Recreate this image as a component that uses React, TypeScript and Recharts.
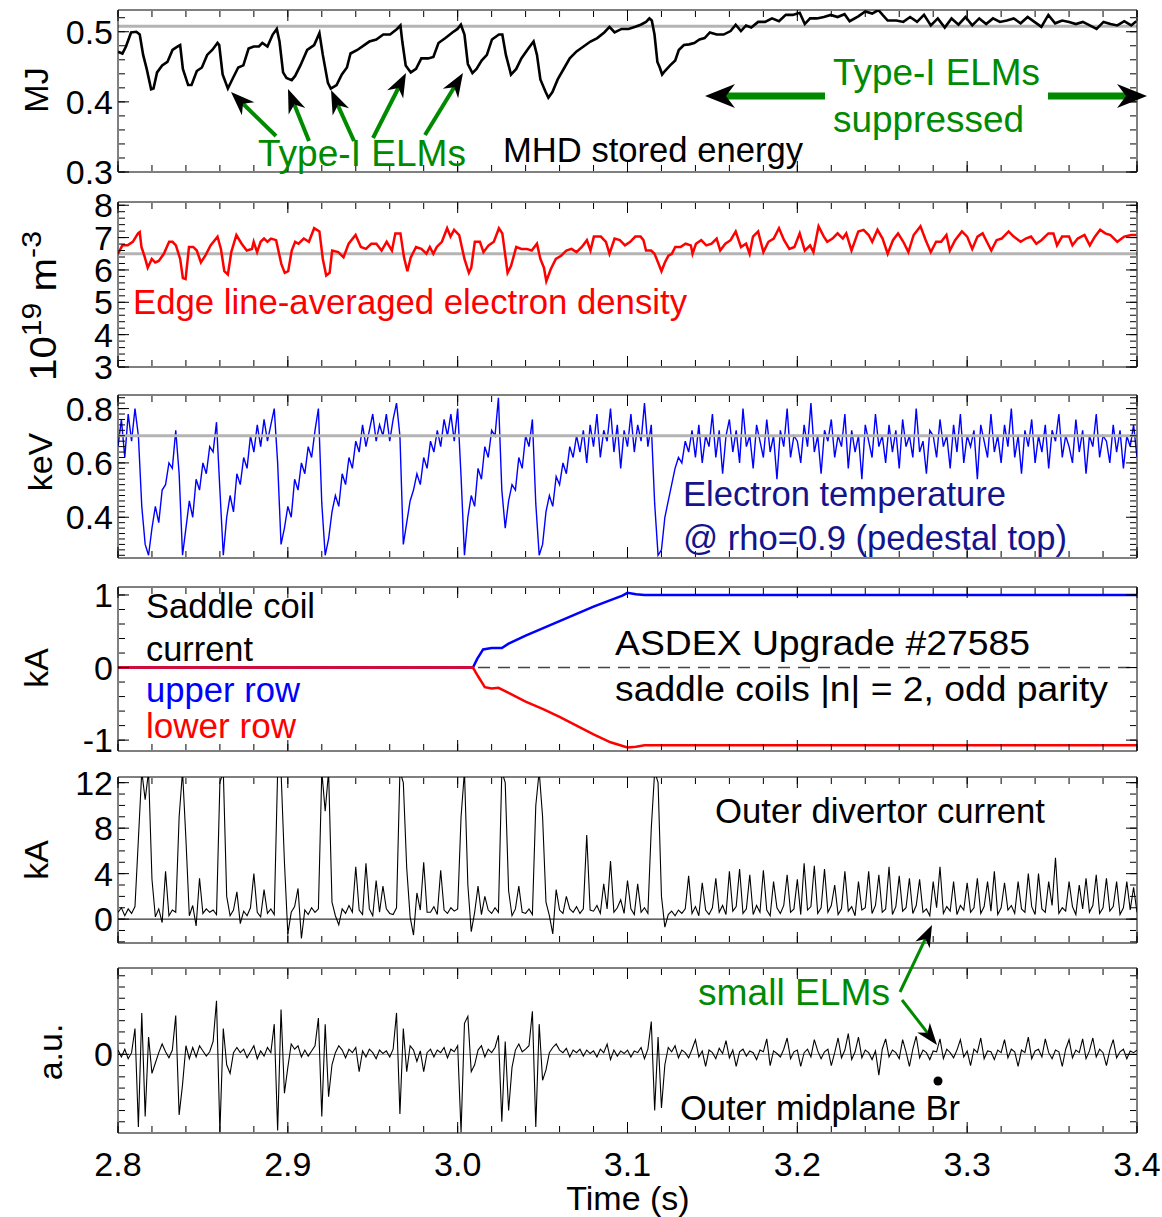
import { LineChart, Line, XAxis, YAxis, ReferenceLine } from "recharts";

const FONT = "'Liberation Sans', Arial, Helvetica, sans-serif";
const GREEN = "#008a00";
const NAVY = "#14148c";

// plot box, page pixels
const W = 1162;
const PLOT_LEFT = 118;
const PLOT_RIGHT = 1137;
const LABEL_W = 80;
const PAD = 24;

// evenly sampled traces: one value every DT seconds from T0
const T0 = 2.8;
const DT = 0.002;

const timeTicks = [2.8, 2.9, 3.0, 3.1, 3.2, 3.3, 3.4];

// MHD stored energy (MJ), [t, W]
const storedEnergy: [number, number][] = [
  [2.8, 0.4715], [2.8026, 0.469], [2.8047, 0.479], [2.8077, 0.499], [2.8108, 0.5], [2.8128, 0.496],
  [2.8148, 0.467], [2.8169, 0.447], [2.8195, 0.418], [2.8209, 0.419], [2.823, 0.442], [2.826, 0.452],
  [2.8291, 0.457], [2.8321, 0.474], [2.8352, 0.479], [2.8366, 0.481], [2.8382, 0.447], [2.8413, 0.424],
  [2.8433, 0.424], [2.8464, 0.444], [2.8494, 0.449], [2.8525, 0.467], [2.8555, 0.474], [2.8586, 0.484],
  [2.8596, 0.481], [2.8616, 0.439], [2.8647, 0.419], [2.8677, 0.434], [2.8708, 0.449], [2.8738, 0.452],
  [2.8769, 0.476], [2.8799, 0.479], [2.883, 0.479], [2.885, 0.484], [2.888, 0.479], [2.8911, 0.496],
  [2.8935, 0.504], [2.8951, 0.486], [2.8972, 0.442], [2.8992, 0.434], [2.9023, 0.431], [2.9043, 0.437],
  [2.9074, 0.452], [2.9114, 0.474], [2.9155, 0.481], [2.9186, 0.498], [2.9206, 0.467], [2.9236, 0.427],
  [2.9253, 0.419], [2.9287, 0.424], [2.9318, 0.439], [2.9348, 0.449], [2.9369, 0.469], [2.9409, 0.474],
  [2.945, 0.481], [2.948, 0.486], [2.9521, 0.489], [2.9562, 0.496], [2.9602, 0.496], [2.9643, 0.504],
  [2.9663, 0.509], [2.9674, 0.486], [2.9694, 0.452], [2.9724, 0.442], [2.9755, 0.447], [2.9786, 0.462],
  [2.9826, 0.462], [2.9857, 0.464], [2.9887, 0.484], [2.9928, 0.491], [2.9969, 0.499], [2.9999, 0.504],
  [3.0019, 0.51], [3.004, 0.496], [3.006, 0.454], [3.0087, 0.441], [3.0111, 0.447], [3.0141, 0.459],
  [3.0172, 0.467], [3.0202, 0.489], [3.0243, 0.496], [3.0263, 0.496], [3.0284, 0.467], [3.0314, 0.439],
  [3.0345, 0.447], [3.0375, 0.462], [3.0416, 0.476], [3.0447, 0.486], [3.0467, 0.467], [3.0487, 0.432],
  [3.0518, 0.414], [3.0534, 0.406], [3.0558, 0.414], [3.0589, 0.432], [3.0629, 0.449], [3.066, 0.462],
  [3.07, 0.472], [3.0741, 0.479], [3.0782, 0.486], [3.0822, 0.491], [3.0863, 0.499], [3.0894, 0.507],
  [3.0924, 0.499], [3.0965, 0.504], [3.1006, 0.504], [3.1046, 0.507], [3.1078, 0.51], [3.1109, 0.514],
  [3.1129, 0.519], [3.1143, 0.516], [3.1159, 0.496], [3.1176, 0.457], [3.119, 0.449], [3.1204, 0.439],
  [3.122, 0.444], [3.1251, 0.452], [3.1281, 0.459], [3.1302, 0.474], [3.1332, 0.481], [3.1363, 0.482],
  [3.1393, 0.484], [3.1424, 0.489], [3.1454, 0.491], [3.1485, 0.499], [3.1525, 0.496], [3.1566, 0.496],
  [3.1607, 0.501], [3.1637, 0.51], [3.1668, 0.501], [3.1698, 0.509], [3.1729, 0.506], [3.1769, 0.514],
  [3.181, 0.514], [3.1851, 0.519], [3.1892, 0.515], [3.1932, 0.524], [3.1973, 0.524], [3.2014, 0.527],
  [3.2044, 0.511], [3.2075, 0.519], [3.2115, 0.519], [3.2156, 0.521], [3.2197, 0.524], [3.2237, 0.521],
  [3.2278, 0.525], [3.2308, 0.515], [3.2359, 0.522], [3.24, 0.529], [3.2441, 0.526], [3.2477, 0.531],
  [3.2502, 0.524], [3.2532, 0.516], [3.2583, 0.516], [3.2624, 0.514], [3.2664, 0.521], [3.2705, 0.514],
  [3.2746, 0.524], [3.2786, 0.509], [3.2827, 0.519], [3.2868, 0.506], [3.2908, 0.519], [3.2949, 0.51],
  [3.299, 0.521], [3.303, 0.509], [3.3071, 0.519], [3.3112, 0.511], [3.3152, 0.519], [3.3193, 0.514],
  [3.3234, 0.516], [3.3274, 0.519], [3.3315, 0.512], [3.3356, 0.521], [3.3396, 0.514], [3.3437, 0.507],
  [3.3478, 0.524], [3.3518, 0.512], [3.3559, 0.516], [3.36, 0.514], [3.364, 0.511], [3.3681, 0.514],
  [3.3722, 0.509], [3.3762, 0.504], [3.3803, 0.514], [3.3844, 0.511], [3.3884, 0.509], [3.3925, 0.515],
  [3.3966, 0.509], [3.3996, 0.515],
];

// edge line-averaged electron density (1e19 m^-3), [t, n]
const edgeDensity: [number, number][] = [
  [2.8, 6.5], [2.8026, 6.76], [2.8057, 6.76], [2.8087, 6.87], [2.8118, 7.13], [2.8128, 7.17], [2.8138, 6.71],
  [2.8158, 6.39], [2.8175, 6.07], [2.8199, 6.34], [2.8219, 6.23], [2.824, 6.28], [2.827, 6.5], [2.8301, 6.87],
  [2.8321, 6.87], [2.8341, 6.76], [2.8366, 6.34], [2.8382, 5.75], [2.8398, 5.72], [2.8418, 6.71], [2.8443, 6.71],
  [2.8464, 6.6], [2.8488, 6.23], [2.8514, 6.44], [2.8545, 6.76], [2.8586, 7.03], [2.8606, 6.65], [2.8626, 5.96],
  [2.8647, 5.86], [2.8667, 6.55], [2.8697, 7.08], [2.8728, 6.81], [2.8758, 6.6], [2.8789, 6.65], [2.8799, 6.87],
  [2.8819, 6.55], [2.884, 6.87], [2.886, 6.97], [2.888, 6.87], [2.8901, 6.97], [2.8931, 6.92], [2.8962, 6.18],
  [2.8982, 5.91], [2.9002, 5.96], [2.9023, 6.6], [2.9043, 6.87], [2.9063, 6.81], [2.9094, 6.97], [2.9124, 6.87],
  [2.9155, 7.29], [2.9186, 7.19], [2.9206, 6.34], [2.9226, 5.83], [2.9246, 5.91], [2.9261, 6.6], [2.9297, 6.55],
  [2.9328, 6.39], [2.9358, 6.81], [2.9399, 7.08], [2.943, 6.71], [2.946, 6.65], [2.9491, 6.81], [2.9521, 6.81],
  [2.9552, 6.6], [2.9582, 6.87], [2.9613, 6.6], [2.9633, 7.13], [2.9663, 7.13], [2.9684, 6.39], [2.9704, 5.96],
  [2.9724, 6.39], [2.9755, 6.71], [2.9786, 6.65], [2.9816, 6.5], [2.9836, 6.71], [2.9857, 6.5], [2.9877, 6.71],
  [2.9907, 6.87], [2.9938, 7.29], [2.9958, 7.03], [2.9979, 7.24], [3.0009, 7.08], [3.004, 6.34], [3.0066, 5.91],
  [3.008, 6.07], [3.0101, 6.87], [3.0131, 6.87], [3.0152, 6.55], [3.0182, 6.76], [3.0213, 6.87], [3.0243, 7.29],
  [3.0263, 7.13], [3.0294, 5.91], [3.0314, 6.12], [3.0345, 6.71], [3.0375, 6.65], [3.0406, 6.65], [3.0436, 6.6],
  [3.0467, 6.81], [3.0487, 6.34], [3.0508, 6.07], [3.0522, 5.65], [3.0548, 6.02], [3.0578, 6.34], [3.0609, 6.44],
  [3.064, 6.6], [3.067, 6.65], [3.07, 6.55], [3.0731, 6.71], [3.0761, 6.92], [3.0782, 6.6], [3.0802, 7.03],
  [3.0843, 7.03], [3.0873, 6.87], [3.0894, 6.5], [3.0924, 6.97], [3.0955, 6.92], [3.0985, 6.76], [3.1016, 6.87],
  [3.1046, 7.03], [3.1077, 7.03], [3.1094, 6.92], [3.1109, 6.6], [3.1139, 6.6], [3.1159, 6.5], [3.118, 6.23],
  [3.12, 5.96], [3.122, 6.23], [3.1241, 6.44], [3.1261, 6.5], [3.1281, 6.71], [3.1312, 6.71], [3.1342, 6.81],
  [3.1373, 6.76], [3.1383, 6.5], [3.1403, 6.81], [3.1434, 6.92], [3.1464, 6.76], [3.1495, 6.81], [3.1525, 6.97],
  [3.1546, 6.6], [3.1576, 6.81], [3.1607, 6.92], [3.1637, 7.19], [3.1668, 6.71], [3.1698, 6.81], [3.1719, 6.5],
  [3.1739, 7.03], [3.1769, 7.19], [3.18, 6.55], [3.183, 6.87], [3.1861, 6.97], [3.1892, 7.29], [3.1922, 6.92],
  [3.1953, 6.65], [3.1983, 6.71], [3.2014, 7.13], [3.2044, 6.6], [3.2075, 6.76], [3.2095, 6.55], [3.2125, 7.35],
  [3.2156, 7.03], [3.2176, 6.87], [3.2207, 6.97], [3.2237, 7.13], [3.2268, 6.97], [3.2288, 7.13], [3.2319, 6.6],
  [3.2359, 7.19], [3.239, 7.24], [3.242, 7.08], [3.2441, 6.87], [3.2472, 7.24], [3.2502, 6.97], [3.2532, 6.5],
  [3.2563, 6.92], [3.2593, 7.13], [3.2624, 6.87], [3.2654, 6.55], [3.2685, 7.08], [3.2725, 7.35], [3.2756, 6.92],
  [3.2786, 6.55], [3.2817, 6.87], [3.2847, 6.87], [3.2878, 7.08], [3.2898, 6.6], [3.2929, 6.92], [3.2969, 7.19],
  [3.3, 7.03], [3.303, 6.65], [3.3061, 7.03], [3.3091, 7.13], [3.3122, 6.81], [3.3142, 6.6], [3.3173, 6.92],
  [3.3203, 6.97], [3.3244, 7.19], [3.3274, 7.03], [3.3315, 6.87], [3.3345, 6.97], [3.3376, 7.03], [3.3407, 6.81],
  [3.3437, 6.92], [3.3478, 7.13], [3.3508, 7.13], [3.3529, 6.76], [3.3559, 7.03], [3.36, 7.03], [3.362, 6.76],
  [3.3651, 6.97], [3.3691, 7.08], [3.3722, 6.76], [3.3752, 7.03], [3.3783, 7.24], [3.3813, 7.13], [3.3844, 7.08],
  [3.3884, 6.87], [3.3925, 7.03], [3.3966, 7.08], [3.3996, 7.08],
];

// saddle coil currents (kA), [t, I]
const upperRow: [number, number][] = [
  [2.8, 0], [3.009, 0], [3.0115, 0.12], [3.015, 0.25], [3.02, 0.27], [3.026, 0.27], [3.03, 0.33],
  [3.04, 0.44], [3.05, 0.54], [3.06, 0.64], [3.07, 0.74], [3.08, 0.84], [3.09, 0.93], [3.097, 0.99],
  [3.1, 1.03], [3.105, 1.01], [3.11, 1.0], [3.2, 1.0], [3.3, 1.0], [3.4, 1.0],
];
const lowerRow: [number, number][] = [
  [2.8, 0], [3.009, 0], [3.012, -0.12], [3.016, -0.27], [3.02, -0.29], [3.024, -0.28], [3.03, -0.35],
  [3.04, -0.47], [3.05, -0.57], [3.06, -0.68], [3.07, -0.8], [3.08, -0.92], [3.09, -1.03], [3.1, -1.1],
  [3.105, -1.09], [3.11, -1.07], [3.2, -1.07], [3.3, -1.07], [3.4, -1.07],
];

// electron temperature at rho=0.9 (keV)
const teRho09 = [
  0.66, 0.76, 0.62, 0.78, 0.68, 0.8, 0.7,
  0.44, 0.3, 0.26, 0.36, 0.44, 0.38, 0.5, 0.52, 0.6, 0.58, 0.72, 0.56, 0.26,
  0.36, 0.46, 0.4, 0.54, 0.5, 0.6, 0.56, 0.66, 0.64, 0.75, 0.5, 0.26,
  0.4, 0.48, 0.42, 0.56, 0.52, 0.62, 0.58, 0.7, 0.64, 0.74, 0.66, 0.76, 0.68, 0.74, 0.8, 0.6, 0.3,
  0.36, 0.44, 0.4, 0.54, 0.5, 0.6, 0.56, 0.66, 0.62, 0.72, 0.8, 0.45, 0.26,
  0.32, 0.42, 0.48, 0.44, 0.56, 0.52, 0.62, 0.58, 0.68, 0.64, 0.74, 0.66, 0.72, 0.78, 0.68, 0.74, 0.7, 0.78,
  0.68, 0.76, 0.82, 0.7, 0.3,
  0.38, 0.46, 0.5, 0.56, 0.52, 0.62, 0.58, 0.68, 0.64, 0.72, 0.66, 0.76, 0.7, 0.78, 0.68, 0.8, 0.55, 0.26,
  0.4, 0.48, 0.44, 0.58, 0.54, 0.66, 0.62, 0.72, 0.7, 0.84, 0.5, 0.36,
  0.46, 0.52, 0.5, 0.62, 0.58, 0.7, 0.66, 0.76, 0.45, 0.26,
  0.3, 0.42, 0.48, 0.44, 0.55, 0.52, 0.6, 0.56, 0.66, 0.62, 0.7, 0.64, 0.72, 0.6, 0.74, 0.66, 0.78, 0.62,
  0.72, 0.68, 0.8, 0.64, 0.74, 0.58, 0.72, 0.66, 0.78, 0.64, 0.74, 0.68, 0.82, 0.66, 0.74,
  0.45, 0.26, 0.28, 0.4, 0.46, 0.52, 0.58, 0.62, 0.6, 0.68, 0.64, 0.72, 0.62,
  0.74, 0.6, 0.7, 0.66, 0.78, 0.62, 0.72, 0.56, 0.7, 0.76,
  0.64, 0.72, 0.6, 0.8, 0.66, 0.7, 0.58, 0.74, 0.68, 0.62,
  0.76, 0.64, 0.7, 0.54, 0.72, 0.66, 0.8, 0.62, 0.7, 0.68,
  0.6, 0.74, 0.66, 0.82, 0.64, 0.7, 0.56, 0.72, 0.68, 0.76,
  0.62, 0.7, 0.66, 0.78, 0.58, 0.72, 0.64, 0.7, 0.54, 0.74,
  0.68, 0.62, 0.78, 0.66, 0.7, 0.6, 0.74, 0.64, 0.72, 0.58,
  0.76, 0.66, 0.7, 0.62, 0.8, 0.64, 0.68, 0.56, 0.72, 0.7,
  0.62, 0.76, 0.66, 0.7, 0.58, 0.74, 0.64, 0.78, 0.6, 0.7,
  0.66, 0.72, 0.54, 0.74, 0.68, 0.62, 0.78, 0.64, 0.7, 0.6,
  0.74, 0.66, 0.8, 0.62, 0.7, 0.56, 0.72, 0.66, 0.76, 0.6,
  0.7, 0.64, 0.74, 0.58, 0.72, 0.68, 0.78, 0.62, 0.7, 0.66,
  0.6, 0.76, 0.64, 0.72, 0.56, 0.7, 0.66, 0.78, 0.62, 0.7,
  0.68, 0.6, 0.74, 0.64, 0.72, 0.58, 0.7, 0.66, 0.74, 0.62,
];

// outer divertor current (kA)
const divertorCurrent = [
  0.6, 1.0, 0.3, 0.9, 0.5, 1.1,
  7, 13, 10.5, 13, 3.5, 0.2, 0.9,
  -0.3, 4.2, 0.3, 0.8,
  0.6, 9, 13, 7, 0.3,
  1.2, -0.6, 3.6, 0.5, 0.9, 0.6, 0.8, 0.4,
  12, 13, 2.0, 0.3, 0.8, 2.4, -0.4, 0.7, 0.3, 1.0, 4.0, 0.6, 0.2, 2.6, 0.5, 0.9, 0.4,
  13, 13, 5, -1.3, 0.6, 1.1, 2.7, -1.7, 0.8, 0.4, 1.0, 0.6, 0.9,
  13, 9.5, 13, 1.5, 0.3, -0.5, 0.9, 0.5, 1.2, 0.6, 4.6, 0.8, 0.4, 4.9, 0.9, 0.3, 3.4, 0.6, 2.9, 0.9, 0.5, 0.4, 1.0,
  13, 12, 4.5, 0.2, -1.4, 2.3, 0.8, 5.0, 0.6, 0.6, 1.1, 0.4, 4.3, 0.8, 0.5, 1.0, 0.7, 0.9,
  9, 13, 3, -1.1, 0.6, 2.9, 0.4, 2.0, 0.8, 0.5, 1.0, 0.6,
  13, 12, 2.5, 0.3, 0.9, 2.9, 0.6, 0.5, 0.9, 0.4,
  10, 13, 9, 1.5, 0.3, -1.3, 2.6, 0.8, 0.5, 2.0, 0.9, 0.6, 1.1, 0.5, 0.9, 7.4, 0.8, 0.7, 1.2, 0.5,
  3.1, 0.9, 5.1, 0.6, 1.0, 1.7, 0.5, 3.4, 0.9, 0.4, 3.1, 0.6, 1.0, 0.5,
  8, 13, 12, 2.0, -0.7, 0.4, 0.7, 0.3, 0.8, 0.5, 0.9,
  3.8, 0.5, 1.1, 0.3, 3.2, 0.8, 0.4, 1.0, 3.6, 0.6, 1.2, 0.4, 4.2, 0.7, 1.1, 4.4, 0.5, 0.9, 3.9, 0.4,
  1.2, 0.6, 4.3, 0.8, 0.3, 3.3, 1.0, 0.5, 1.2, 3.9, 0.6, 0.9, 3.5, 0.4, 4.9, 0.8, 1.1, 4.7, 0.5, 1.0,
  4.4, 0.6, 1.2, 3.0, 0.4, 0.9, 4.2, 0.7, 1.1, 0.3, 3.3, 0.8, 1.0, 4.2, 0.5, 1.2, 3.9, 0.6, 0.9, 4.6,
  0.4, 1.1, 3.8, 0.7, 1.0, 3.6, 0.5, 1.2, 3.5, 0.6, 0.9, 0.3, 3.3, 1.0, 4.6, 0.5, 1.1, 0.7, 3.3, 0.4,
  1.2, 0.8, 3.2, 0.6, 1.0, 3.6, 0.5, 1.1, 3.3, 0.7, 4.2, 0.4, 1.0, 3.2, 0.8, 1.2, 0.5, 3.3, 0.9, 0.6,
  4.0, 1.1, 0.4, 4.0, 0.9, 0.6, 3.3, 1.2, 5.4, 0.5, 1.0, 0.7, 3.3, 1.1, 0.4, 3.0, 0.9, 3.6, 0.6, 1.2,
  3.9, 0.5, 1.0, 3.6, 0.7, 1.1, 3.3, 0.4, 1.0, 3.3, 0.8, 2.8, 0.6,
];

// outer midplane dBr/dt (a.u.)
const brDot = [
  0.05, -0.03, 0.06, -0.05, 0.02,
  0.3, -0.84, 0.48, -0.72, 0.2, -0.22, -0.1, 0.02, 0.12, 0.03, -0.04, 0.05,
  0.45, -0.7, -0.35, 0.1, -0.05, 0.08, -0.03, 0.1, 0.04, -0.02, 0.03, 0.15,
  0.62, -0.9, 0.3, -0.12, -0.22, 0.02, 0.08, 0.02, 0.06, -0.04, 0.03, 0.1, -0.05, 0.04, -0.02, 0.08, 0.02,
  0.35, -0.88, 0.52, -0.45, -0.15, 0.12, 0.06, 0.1, -0.03, 0.05, -0.02, 0.04, 0.1,
  0.42, -0.72, 0.35, -0.49, -0.12, 0.02, 0.1, 0.05, -0.04, 0.06, 0.02, 0.08, -0.2, 0.04, -0.03, 0.06,
  0.02, -0.05, 0.05, 0.01, 0.04, -0.03, 0.06,
  0.48, -0.69, 0.3, -0.2, 0.1, 0.05, -0.08, 0.04, -0.2, 0.02, 0.06, -0.03, 0.05, 0.02, 0.08, -0.04, 0.06, 0.03, 0.1,
  -0.9, 0.36, 0.44, -0.2, -0.12, 0.05, 0.1, -0.03, 0.06, 0.02, 0.08,
  0.22, -0.78, 0.15, -0.65, -0.15, 0.05, 0.12, 0.03, 0.06, 0.1,
  0.5, -0.84, 0.35, -0.3, -0.18, 0.02, 0.08, 0.12, 0.05, 0.02, 0.07, -0.03, 0.05, 0.02, 0.06, -0.02, 0.05,
  0.01, 0.04, -0.03, 0.06, 0.02, 0.12, -0.06, 0.05, -0.02, 0.04, 0.01, 0.05, -0.03, 0.04, 0.02, 0.08, -0.05, 0.06,
  0.38, -0.65, 0.2, -0.62, -0.12, 0.08, 0.03, 0.1, -0.04, 0.05,
  0.02, -0.04, 0.06, 0.17, -0.03, 0.04, -0.14, 0.05, 0.02, -0.05, 0.07, 0.01, 0.16, -0.04,
  0.05, -0.14, 0.03, 0.06, -0.02, 0.04, 0.02, -0.06, 0.05, 0.03, 0.18, -0.13, 0.04, 0.01, -0.03, 0.06, 0.19, -0.05, 0.03, 0.05,
  -0.14, 0.02, 0.06, -0.03, 0.17, 0.04, -0.05, 0.03, 0.06, -0.13, 0.02, 0.19, -0.04, 0.05, 0.24, -0.06, 0.03, 0.2, -0.04, 0.05,
  0.02, -0.06, 0.04, -0.24, 0.06, 0.18, -0.03, 0.05, 0.02, -0.05, 0.17, 0.03, -0.14, 0.06, 0.21, -0.04, 0.05, 0.02, -0.06, 0.04,
  0.03, 0.18, -0.05, 0.06, 0.02, -0.04, 0.05, 0.17, -0.03, 0.04, -0.13, 0.06, 0.02, 0.19, -0.05, 0.04, 0.03, -0.06, 0.05, 0.02,
  0.17, -0.04, 0.06, 0.03, -0.14, 0.05, 0.02, 0.2, -0.05, 0.04, 0.06, -0.03, 0.18, 0.02, -0.05, 0.05, 0.03, -0.14, 0.06, 0.17,
  -0.04, 0.05, 0.02, 0.18, -0.05, 0.04, 0.19, -0.03, 0.06, 0.02, -0.13, 0.05, 0.17, -0.04, 0.03, 0.06, -0.05, 0.04, 0.02, 0.05,
];

const pairs = (arr: [number, number][]) => arr.map(([t, v]) => ({ t, v }));
const sampled = (arr: number[]) => arr.map((v, i) => ({ t: +(T0 + i * DT).toFixed(4), v }));

const steps = (a: number, b: number, s: number) => {
  const out: number[] = [];
  for (let k = 0; a + k * s <= b + 1e-9; k++) out.push(+(a + k * s).toFixed(4));
  return out;
};

const X_MINOR = steps(2.8, 3.4, 0.02);

// tick marks only, no label text (tick={false} would drop the tick lines too)
const noLabel = () => <g />;

type PanelProps = {
  top: number;
  height: number;
  domain: [number, number];
  major: number[];
  minor: number[];
  fmt: (v: number) => string;
  timeLabels?: boolean;
  children?: any;
};

const tickFont = { fontSize: 34, fill: "#000", fontFamily: FONT };

function Panel({ top, height, domain, major, minor, fmt, timeLabels, children }: PanelProps) {
  const extra = timeLabels ? 84 : 0;
  const xc = { type: "number" as const, dataKey: "t", domain: [2.8, 3.4], allowDataOverflow: true, interval: 0 as const, stroke: "#000" };
  const yc = { type: "number" as const, domain, allowDataOverflow: true, interval: 0 as const, stroke: "#000" };
  return (
    <div style={{ position: "absolute", left: 0, top: top - PAD }}>
      <LineChart
        width={W}
        height={height + extra + 2 * PAD}
        margin={{ top: PAD, right: W - PLOT_RIGHT, bottom: PAD, left: PLOT_LEFT - LABEL_W }}
      >
        <XAxis xAxisId="x" {...xc} orientation="bottom" mirror height={1} ticks={timeTicks} tickSize={11} tick={noLabel} />
        <XAxis xAxisId="xm" {...xc} orientation="bottom" mirror height={1} ticks={X_MINOR} tickSize={6} tick={noLabel} axisLine={false} />
        <XAxis xAxisId="xt" {...xc} orientation="top" mirror height={1} ticks={timeTicks} tickSize={11} tick={noLabel} />
        <XAxis xAxisId="xtm" {...xc} orientation="top" mirror height={1} ticks={X_MINOR} tickSize={6} tick={noLabel} axisLine={false} />
        {timeLabels && (
          <XAxis
            xAxisId="xl"
            {...xc}
            orientation="bottom"
            height={extra}
            ticks={timeTicks}
            tickLine={false}
            axisLine={false}
            tickSize={0}
            tickMargin={19}
            tickFormatter={(v: number) => v.toFixed(1)}
            tick={tickFont}
          />
        )}
        <YAxis
          yAxisId="y"
          {...yc}
          width={LABEL_W}
          ticks={major}
          tickLine={false}
          axisLine={false}
          tickSize={0}
          tickMargin={5}
          tickFormatter={fmt}
          tick={tickFont}
        />
        <YAxis yAxisId="yl" {...yc} mirror width={1} ticks={major} tickSize={11} tick={noLabel} />
        <YAxis yAxisId="ylm" {...yc} mirror width={1} ticks={minor} tickSize={6} tick={noLabel} axisLine={false} />
        <YAxis yAxisId="yr" {...yc} orientation="right" mirror width={1} ticks={major} tickSize={11} tick={noLabel} />
        <YAxis yAxisId="yrm" {...yc} orientation="right" mirror width={1} ticks={minor} tickSize={6} tick={noLabel} axisLine={false} />
        {children}
      </LineChart>
    </div>
  );
}

const trace = (data: any[], color: string, width: number, key: string) => (
  <Line
    key={key}
    xAxisId="x"
    yAxisId="y"
    data={data}
    dataKey="v"
    type="linear"
    stroke={color}
    strokeWidth={width}
    dot={false}
    activeDot={false}
    isAnimationActive={false}
  />
);

const refLine = (y: number, color: string, width: number, dash?: string) => (
  <ReferenceLine xAxisId="x" yAxisId="y" y={y} stroke={color} strokeWidth={width} strokeDasharray={dash} />
);

function Arrow({ from, to, width = 4, len = 24, half = 9 }: { from: number[]; to: number[]; width?: number; len?: number; half?: number }) {
  const [x1, y1] = from;
  const [x2, y2] = to;
  const d = Math.hypot(x2 - x1, y2 - y1);
  const ux = (x2 - x1) / d;
  const uy = (y2 - y1) / d;
  const bx = x2 - ux * len;
  const by = y2 - uy * len;
  const nx = x2 - ux * len * 0.7;
  const ny = y2 - uy * len * 0.7;
  const pts = [
    [x2, y2],
    [bx - uy * half, by + ux * half],
    [nx, ny],
    [bx + uy * half, by - ux * half],
  ]
    .map((p) => p.join(","))
    .join(" ");
  return (
    <g>
      <line x1={x1} y1={y1} x2={nx} y2={ny} stroke={GREEN} strokeWidth={width} />
      <polygon points={pts} fill="#000" />
    </g>
  );
}

// annotation text, stretched to the width it has in the figure
const T = ({ x, y, w, c = "#000", a = "start", s = 35, children }: any) => (
  <text
    x={x}
    y={y}
    fill={c}
    textAnchor={a}
    fontSize={s}
    fontFamily={FONT}
    textLength={w}
    lengthAdjust={w ? "spacingAndGlyphs" : undefined}
  >
    {children}
  </text>
);

const VT = ({ x, y, children }: any) => (
  <text transform={`translate(${x},${y}) rotate(-90)`} textAnchor="middle" fontSize={34} fontFamily={FONT} fill="#000">
    {children}
  </text>
);

export default function App() {
  return (
    <div style={{ position: "absolute", left: 0, top: 0, width: W, height: 1217, background: "#fff", overflow: "hidden", fontFamily: FONT }}>
      <Panel top={10} height={162} domain={[0.3, 0.531]} major={[0.3, 0.4, 0.5]} minor={steps(0.3, 0.52, 0.02)} fmt={(v) => v.toFixed(1)}>
        {refLine(0.508, "#b4b4b4", 3)}
        {trace(pairs(storedEnergy), "#000", 2.6, "w")}
      </Panel>
      <Panel top={202} height={165} domain={[3, 8.1]} major={[3, 4, 5, 6, 7, 8]} minor={steps(3, 8, 0.2)} fmt={(v) => String(v)}>
        {refLine(6.5, "#b4b4b4", 3)}
        {trace(pairs(edgeDensity), "#ff0000", 2.5, "n")}
      </Panel>
      <Panel top={395} height={163} domain={[0.25, 0.85]} major={[0.4, 0.6, 0.8]} minor={steps(0.26, 0.84, 0.02)} fmt={(v) => v.toFixed(1)}>
        {trace(sampled(teRho09), "#0000ff", 1.4, "te")}
        {refLine(0.7, "#b4b4b4", 3)}
      </Panel>
      <Panel top={587} height={164} domain={[-1.15, 1.11]} major={[-1, 0, 1]} minor={steps(-1, 1, 0.2)} fmt={(v) => String(v)}>
        {refLine(0, "#444", 1.5, "12 8")}
        {trace(pairs(upperRow), "#0000ff", 2.5, "up")}
        {trace(pairs(lowerRow), "#ff0000", 2.5, "lo")}
      </Panel>
      <Panel top={777} height={166} domain={[-2.1, 12.5]} major={[0, 4, 8, 12]} minor={steps(-2, 12, 1)} fmt={(v) => String(v)}>
        {refLine(0, "#000", 1)}
        {trace(sampled(divertorCurrent), "#000", 1.1, "div")}
      </Panel>
      <Panel
        top={968}
        height={165}
        domain={[-0.91, 1.0]}
        major={[0]}
        minor={steps(-0.78, 0.91, 0.13)}
        fmt={(v) => String(v)}
        timeLabels
      >
        {refLine(0, "#888", 1)}
        {trace(sampled(brDot), "#000", 1.1, "br")}
      </Panel>

      <svg width={W} height={1217} style={{ position: "absolute", left: 0, top: 0, pointerEvents: "none" }}>
        {/* axis titles */}
        <VT x={48} y={90}>MJ</VT>
        <text transform="translate(56,306) rotate(-90)" textAnchor="middle" fontSize={36} fontFamily={FONT} textLength={150} lengthAdjust="spacingAndGlyphs">
          10<tspan fontSize={27} dy={-15}>19</tspan>
          <tspan dy={15}> m</tspan>
          <tspan fontSize={27} dy={-15}>-3</tspan>
        </text>
        <VT x={52} y={462}>keV</VT>
        <VT x={48} y={668}>kA</VT>
        <VT x={48} y={860}>kA</VT>
        <VT x={62} y={1052}>a.u.</VT>
        <T x={628} y={1210} a="middle" s={34}>Time (s)</T>

        {/* panel 1 */}
        <Arrow from={[276, 136]} to={[231, 92]} />
        <Arrow from={[309, 141]} to={[288, 89]} />
        <Arrow from={[354, 141]} to={[331, 90]} />
        <Arrow from={[373, 138]} to={[406, 73]} />
        <Arrow from={[425, 135]} to={[463, 73]} />
        <T x={258} y={166} w={208} s={36} c={GREEN}>Type-I ELMs</T>
        <T x={503} y={162} w={300}>MHD stored energy</T>
        <Arrow from={[825, 96]} to={[705, 96]} width={7} len={30} half={12} />
        <Arrow from={[1048, 96]} to={[1147, 96]} width={7} len={30} half={12} />
        <T x={833} y={85} w={207} s={36} c={GREEN}>Type-I ELMs</T>
        <T x={833} y={132} w={191} s={36} c={GREEN}>suppressed</T>

        {/* panel 2 */}
        <T x={133} y={314} w={554} c="#ff0000">Edge line-averaged electron density</T>

        {/* panel 3 */}
        <T x={683} y={506} w={323} c={NAVY}>Electron temperature</T>
        <T x={683} y={550} w={384} c={NAVY}>@ rho=0.9 (pedestal top)</T>

        {/* panel 4 */}
        <T x={146} y={618} w={169}>Saddle coil</T>
        <T x={146} y={661} w={107}>current</T>
        <T x={146} y={702} w={154} c="#0000ff">upper row</T>
        <T x={146} y={738} w={150} c="#ff0000">lower row</T>
        <T x={615} y={655} w={415}>ASDEX Upgrade #27585</T>
        <T x={615} y={701} w={493}>saddle coils |n| = 2, odd parity</T>

        {/* panel 5 */}
        <T x={715} y={823} w={330}>Outer divertor current</T>

        {/* panel 6 */}
        <T x={698} y={1005} w={192} s={36} c={GREEN}>small ELMs</T>
        <Arrow from={[900, 992]} to={[932, 925]} width={3} len={22} half={8} />
        <Arrow from={[902, 1000]} to={[937, 1045]} width={3} len={22} half={8} />
        <T x={680} y={1120} w={280}>Outer midplane Br</T>
        <circle cx={938} cy={1081} r={4.5} fill="#000" />
      </svg>
    </div>
  );
}
